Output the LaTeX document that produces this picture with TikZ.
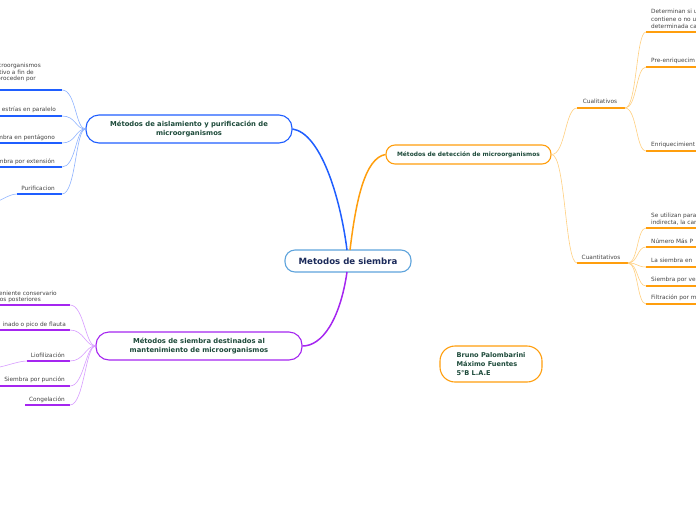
\documentclass[tikz,border=0pt]{standalone}
\usepackage{fontspec}
\setmainfont{DejaVu Sans}
\definecolor{cblue}{HTML}{1F5EFF}
\definecolor{lblue}{HTML}{8EB2FF}
\definecolor{cpurp}{HTML}{A526F0}
\definecolor{lpurp}{HTML}{D79CFF}
\definecolor{corng}{HTML}{FF9E0D}
\definecolor{lorng}{HTML}{FFCF80}
\definecolor{cctr}{HTML}{5FA4DC}
\definecolor{tgreen}{HTML}{1D4A3A}
\definecolor{tnavy}{HTML}{1B2A5A}
\definecolor{tgray}{HTML}{444444}
\tikzset{
  mainbox/.style={draw, line width=1.1pt, fill=white, align=center, inner sep=0pt,
    text=tgreen, font=\fontsize{6.8}{9}\selectfont\bfseries},
  subtxt/.style={inner sep=0pt, text=tgray, font=\fontsize{5.8}{7}\selectfont},
  con/.style={line width=0.6pt},
  maincon/.style={line width=1.5pt},
  uline/.style={line width=1.8pt},
}
\begin{document}
\begin{tikzpicture}[x=1pt,y=-1pt]
\useasboundingbox (0,0) rectangle (696,520);
\clip (0,0) rectangle (696,520);

% ---------- main nodes ----------
\node[mainbox, draw=cctr, rounded corners=10pt, minimum width=126pt, minimum height=22pt,
  text=tnavy, font=\fontsize{8.6}{10}\selectfont\bfseries] (ctr) at (348,261) {Metodos de siembra};
\node[mainbox, draw=cblue, rounded corners=13pt, minimum width=206pt, minimum height=28pt] (ais) at (189,129)
  {Métodos de aislamiento y purificación de\\microorganismos};
\node[mainbox, draw=cpurp, rounded corners=13pt, minimum width=206pt, minimum height=28pt] (man) at (199,346)
  {Métodos de siembra destinados al\\mantenimiento de microorganismos};
\node[mainbox, draw=corng, rounded corners=9pt, minimum width=165pt, minimum height=19pt,
  font=\fontsize{5.9}{8}\selectfont\bfseries] (det) at (468.5,154.5) {Métodos de detección de microorganismos};
\node[mainbox, draw=corng, rounded corners=15pt, minimum width=102pt, minimum height=36pt,
  align=left, font=\fontsize{6.6}{9}\selectfont\bfseries] (nam) at (491,364)
  {Bruno Palombarini\\Máximo Fuentes\\5°B L.A.E};

% ---------- main connectors ----------
\coordinate (ctrtl) at (347,250);
\coordinate (ctrtr) at (350,250);
\coordinate (ctrb) at (347,272);
\draw[maincon, cblue] (ctrtl) .. controls (340,195) and (320,133) .. (ais.east);
\draw[maincon, corng] (ctrtr) .. controls (356,200) and (365,158) .. (det.west);
\draw[maincon, cpurp] (ctrb) .. controls (340,320) and (322,346) .. (man.east);

% ---------- left blue branch ----------
\coordinate (b1l) at (-2,90);  \coordinate (b1r) at (62,90);
\coordinate (b2l) at (-2,116); \coordinate (b2r) at (62,116);
\coordinate (b3l) at (-2,143); \coordinate (b3r) at (62,143);
\coordinate (b4l) at (-2,167); \coordinate (b4r) at (62,167);
\coordinate (b5l) at (17,194); \coordinate (b5r) at (62,194);
\coordinate (b5x) at (-10,203);
\foreach \i in {1,...,5} {
  \draw[uline, cblue] (b\i l) -- (b\i r);
  \draw[con, lblue] (b\i r) .. controls +(14,0) and +(-10,0) .. (ais.west);
}
\draw[con, lblue] (b5l) .. controls +(-9,0) and +(9,0) .. (b5x);
\node[subtxt, anchor=mid east] (t1a) at (41,65) {icroorganismos};
\node[subtxt, anchor=mid east] (t1b) at (34,71.5) {tivo a fin de};
\node[subtxt, anchor=mid east] (t1c) at (36,78) {proceden por};
\node[subtxt, anchor=mid east] (t2) at (56,109) {estrías en paralelo};
\node[subtxt, anchor=mid east] (t3) at (55,137) {mbra en pentágono};
\node[subtxt, anchor=mid east] (t4) at (55,161) {mbra por extensión};
\node[subtxt, anchor=mid east] (t5) at (55,188) {Purificacion};

% ---------- left purple branch ----------
\coordinate (p1l) at (-2,305); \coordinate (p1r) at (70,305);
\coordinate (p2l) at (-2,330); \coordinate (p2r) at (70,330);
\coordinate (p3l) at (27,361); \coordinate (p3r) at (70,361);
\coordinate (p4l) at (-2,386); \coordinate (p4r) at (70,386);
\coordinate (p5l) at (25,405); \coordinate (p5r) at (70,405);
\coordinate (p3x) at (-8,368);
\foreach \i in {1,...,5} {
  \draw[uline, cpurp] (p\i l) -- (p\i r);
  \draw[con, lpurp] (p\i r) .. controls +(14,0) and +(-10,0) .. (man.west);
}
\draw[con, lpurp] (p3l) .. controls +(-10,0) and +(10,0) .. (p3x);
\node[subtxt, anchor=mid east] (s1a) at (57,293) {veniente conservario};
\node[subtxt, anchor=mid east] (s1b) at (41,299) {lios posteriores};
\node[subtxt, anchor=mid east] (s2) at (66,324) {inado o pico de flauta};
\node[subtxt, anchor=mid east] (s3) at (65,355) {Liofilización};
\node[subtxt, anchor=mid east] (s4) at (65,379) {Siembra por punción};
\node[subtxt, anchor=mid east] (s5) at (65,399) {Congelación};

% ---------- right orange branch ----------
\coordinate (qll) at (577,108); \coordinate (qlr) at (625,108);
\coordinate (qnl) at (577,263); \coordinate (qnr) at (628,263);
\draw[uline, corng] (qll) -- (qlr);
\draw[uline, corng] (qnl) -- (qnr);
\draw[con, lorng] (det.east) .. controls +(14,0) and +(-12,0) .. (qll);
\draw[con, lorng] (det.east) .. controls +(14,0) and +(-12,0) .. (qnl);
\node[subtxt] (cual) at (600,101) {Cualitativos};
\node[subtxt] (cuan) at (601,257) {Cuantitativos};

\foreach \n/\y in {a/32, b/67, c/151} {
  \coordinate (r\n l) at (646,\y); \coordinate (r\n r) at (700,\y);
  \draw[uline, corng] (r\n l) -- (r\n r);
  \draw[con, lorng] (qlr) .. controls +(12,0) and +(-10,0) .. (r\n l);
}
\foreach \n/\y in {d/228, e/247, f/267, g/286, h/304} {
  \coordinate (r\n l) at (646,\y); \coordinate (r\n r) at (700,\y);
  \draw[uline, corng] (r\n l) -- (r\n r);
  \draw[con, lorng] (qnr) .. controls +(10,0) and +(-9,0) .. (r\n l);
}
\node[subtxt, anchor=mid west] (ra1) at (651,11) {Determinan si u};
\node[subtxt, anchor=mid west] (ra2) at (651,18.5) {contiene o no u};
\node[subtxt, anchor=mid west] (ra3) at (651,26) {determinada ca};
\node[subtxt, anchor=mid west] (rb) at (651,60) {Pre-enriquecim};
\node[subtxt, anchor=mid west] (rc) at (651,144) {Enriquecimient};
\node[subtxt, anchor=mid west] (rd1) at (651,215) {Se utilizan para};
\node[subtxt, anchor=mid west] (rd2) at (651,222) {indirecta, la carg};
\node[subtxt, anchor=mid west] (re) at (651,241) {Número Más P};
\node[subtxt, anchor=mid west] (rf) at (651,260) {La siembra en};
\node[subtxt, anchor=mid west] (rg) at (651,279) {Siembra por ve};
\node[subtxt, anchor=mid west] (rh) at (651,297) {Filtración por m};
\end{tikzpicture}
\end{document}
